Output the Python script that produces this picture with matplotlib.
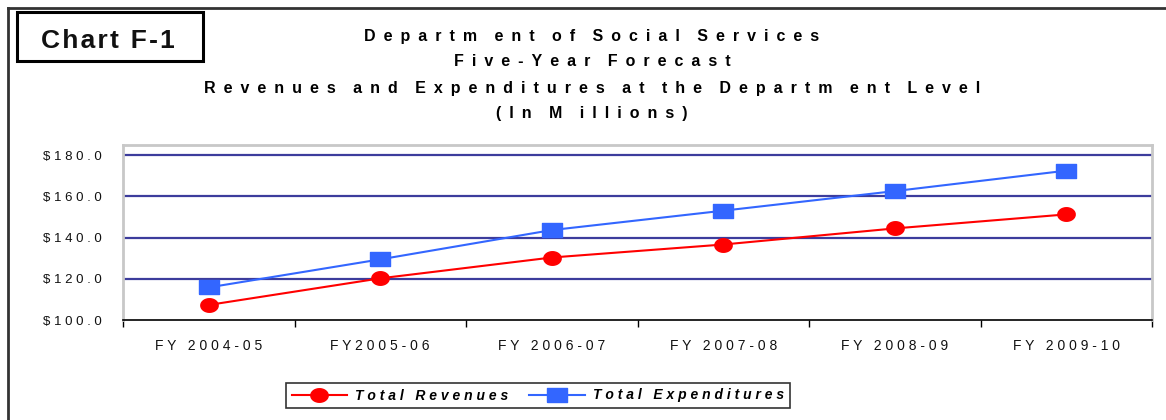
import numpy as np
import matplotlib.pyplot as plt
from matplotlib.patches import Rectangle
from matplotlib.lines import Line2D
from matplotlib.path import Path

plt.rcParams['font.family'] = ['Liberation Sans', 'DejaVu Sans']

# data (in millions)
years = ['FY 2004-05', 'FY2005-06', 'FY 2006-07', 'FY 2007-08', 'FY 2008-09', 'FY 2009-10']
revenues = [107.3, 120.2, 130.3, 136.6, 144.4, 151.2]
expenditures = [115.8, 129.4, 143.6, 153.0, 162.5, 172.4]
y_ticks = [100, 120, 140, 160, 180]
y_tick_labels = ['$100.0', '$120.0', '$140.0', '$160.0', '$180.0']
title_lines = ['Departm ent of Social Services',
               'Five-Year Forecast',
               'Revenues and Expenditures at the Departm ent Level',
               '(In M illions)']


def spaced(s, sep=' '):
    # wide letter spacing like the original excel chart
    out = sep.join(s)
    if sep == '\u2002':
        out = out.replace(sep + ' ' + sep, sep + sep + '\u200a')
    return out


# slightly flattened markers
t = np.linspace(0, 2 * np.pi, 40)
ellipse = Path(np.column_stack([np.cos(t), 0.78 * np.sin(t)]))
rect = Path([(-1, -0.72), (1, -0.72), (1, 0.72), (-1, 0.72), (-1, -0.72)])

fig = plt.figure(figsize=(11.66, 4.2), dpi=100)
ax = fig.add_axes([123 / 1166, 1 - 320 / 420, (1152 - 123) / 1166, 175 / 420])

x = np.arange(len(years))
ax.plot(x, revenues, color='#ff0000', lw=1.5, marker=ellipse, ms=12.5, label=spaced('Total Revenues'), zorder=3)
ax.plot(x, expenditures, color='#3366ff', lw=1.5, marker=rect, ms=14, label=spaced('Total Expenditures'), zorder=3)

ax.set_xlim(-0.5, len(years) - 0.5)
ax.set_ylim(100, 184.85)

# gridlines
for v in y_ticks[1:]:
    ax.axhline(v, color='#3c3c9c', lw=1.6, zorder=1)

ax.set_yticks(y_ticks)
ax.set_yticklabels([spaced(s) for s in y_tick_labels], fontsize=9.5, color='#111111')
ax.tick_params(axis='y', length=0, pad=15)

ax.set_xticks(x)
ax.set_xticklabels([spaced(s) for s in years], fontsize=10, color='#111111')
ax.set_xticks(np.arange(-0.5, len(years)), minor=True)
ax.tick_params(axis='x', which='major', length=0, pad=14)
ax.tick_params(axis='x', which='minor', length=5, width=1, color='black', direction='out')

for s in ['left', 'top', 'right']:
    ax.spines[s].set_color('#c8c8c8')
    ax.spines[s].set_linewidth(2)
ax.spines['bottom'].set_color('black')
ax.spines['bottom'].set_linewidth(1.2)

# outer frame (top and left)
fig.add_artist(Line2D([8 / 1166, 1], [1 - 8 / 420, 1 - 8 / 420], color='#333333', lw=2, transform=fig.transFigure))
fig.add_artist(Line2D([8 / 1166, 8 / 1166], [0, 1 - 8 / 420], color='#333333', lw=2, transform=fig.transFigure))

# Chart F-1 box
fig.add_artist(Rectangle((17 / 1166, 1 - 61 / 420), 186 / 1166, 49 / 420, transform=fig.transFigure,
                         fill=True, facecolor='white', edgecolor='black', lw=2.2))
fig.text(108 / 1166, 1 - 40.5 / 420, spaced('Chart F-1', '\u200a'), fontsize=19, fontweight='bold',
         ha='center', va='center', color='#111111')

# title
for i, line in enumerate(title_lines):
    fig.text(592 / 1166, 1 - (36 + i * 26) / 420, spaced(line, '\u2002'), fontsize=11.5, fontweight='bold',
             ha='center', va='center')

leg = ax.legend(loc='center', bbox_to_anchor=(538 / 1166, 1 - 395.5 / 420), bbox_transform=fig.transFigure,
                ncol=2, frameon=True, fancybox=False, edgecolor='black', handlelength=4.0,
                prop={'weight': 'bold', 'style': 'italic', 'size': 10},
                borderpad=0.4, columnspacing=1.5, handletextpad=0.6)
leg.get_frame().set_linewidth(1.2)

fig.savefig('out.png', dpi=100, facecolor='white')
